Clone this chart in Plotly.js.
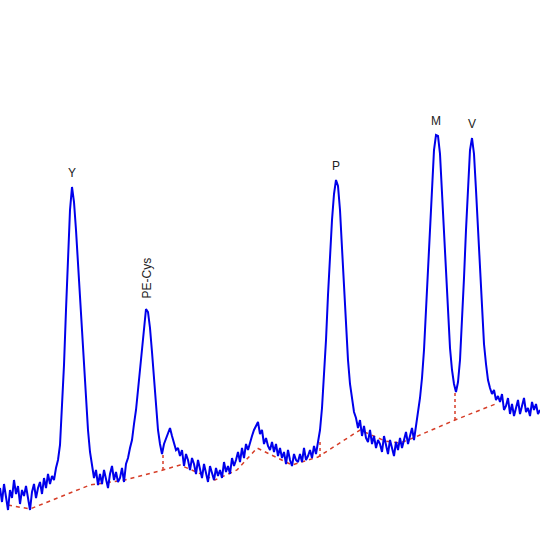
<!DOCTYPE html>
<html>
<head>
<meta charset="utf-8">
<script src="https://cdn.plot.ly/plotly-3.0.1.min.js"></script>
<style>html,body{margin:0;padding:0;background:#fff;}#chart{width:540px;height:540px;}</style>
</head>
<body>
<div id="chart"></div>
<script>
// Detector signal, sampled every 2 units of retention (x0 = 0, dx = 2)
const signalStart = 0;
const signalStep = 2;
const signal = [
  52,38,56,44,30,50,42,60,46,54,
  36,50,44,54,40,30,48,56,42,52,
  58,46,62,52,66,56,64,60,72,80,
  95,130,175,230,290,330,353,338,310,275,
  247,210,178,142,110,88,72,62,70,55,
  66,56,70,62,52,66,74,60,68,58,
  62,72,58,76,82,92,100,116,130,150,
  172,195,216,231,228,212,188,160,134,110,
  96,86,96,102,108,112,104,98,90,92,
  84,90,74,86,80,70,82,76,66,80,
  70,62,76,68,58,74,66,60,72,64,
  70,62,78,68,74,66,82,74,80,88,
  78,92,82,96,90,98,104,110,114,118,
  106,110,96,102,94,90,98,88,96,84,
  92,82,88,76,90,80,74,86,80,78,
  86,78,92,80,84,90,82,94,86,98,
  110,132,162,200,245,285,320,346,360,354,
  330,292,250,212,180,156,140,128,122,112,
  120,104,114,102,98,110,96,104,92,100,
  96,88,104,94,86,100,92,84,98,90,
  102,92,100,108,96,104,112,100,114,126,
  142,162,190,230,272,320,360,390,405,404,
  386,346,300,260,225,192,170,156,148,158,
  180,215,262,310,355,390,402,386,350,310,
  270,232,196,176,160,152,146,150,140,144,
  138,146,130,134,142,126,136,124,132,140,
  126,134,142,128,132,124,138,130,136,126,
  130
];

// Integration baseline (dashed red)
const baseX = [8,30,90,125,163,180,215,237,257,292,318,337,360,385,400,413,455,498];
const baseY = [35,31,55,60,70,75,60,70,92,75,83,95,110,99,97,102,120,137];

// Peak drop lines (dashed red vertical separators)
const dropX = [163,320,455];
const dropLow = [70,83,120];
const dropHigh = [88,100,150];

// Peak labels
const peakNames = ['Y','PE-Cys','P','M','V'];
const peakX = [72,146,336,436,472];
const peakAngle = [0,-90,0,0,0];

const red = 'rgb(214,62,40)';
const traces = [];
traces.push({x: baseX, y: baseY, mode: 'lines', type: 'scatter',
  line: {color: red, width: 1.5, dash: '4px,4px'}, hoverinfo: 'skip'});
const dx = [], dy = [];
dropX.forEach((v, i) => { dx.push(v, v, null); dy.push(dropLow[i], dropHigh[i], null); });
traces.push({x: dx, y: dy, mode: 'lines', type: 'scatter',
  line: {color: red, width: 1.5, dash: '3px,3px'}, hoverinfo: 'skip'});
traces.push({y: signal, x0: signalStart, dx: signalStep, mode: 'lines', type: 'scatter',
  line: {color: 'rgb(0,0,235)', width: 2}, hoverinfo: 'skip'});

function valueAt(x) {
  return signal[Math.round((x - signalStart) / signalStep)];
}
const annotations = peakNames.map((name, i) => ({
  x: peakX[i], y: valueAt(peakX[i]), xref: 'x', yref: 'y',
  text: name, showarrow: false, textangle: peakAngle[i],
  xanchor: 'center', yanchor: 'bottom', yshift: peakAngle[i] ? 8 : 5,
  font: {family: 'Arial, Liberation Sans, sans-serif', size: 12, color: '#222'}
}));

const layout = {
  width: 540, height: 540,
  margin: {l: 0, r: 0, t: 0, b: 0},
  paper_bgcolor: '#ffffff', plot_bgcolor: '#ffffff',
  showlegend: false,
  xaxis: {range: [0, 540], visible: false, fixedrange: true},
  yaxis: {range: [0, 540], visible: false, fixedrange: true},
  annotations: annotations
};
Plotly.newPlot('chart', traces, layout, {staticPlot: true, displayModeBar: false});
</script>
</body>
</html>
